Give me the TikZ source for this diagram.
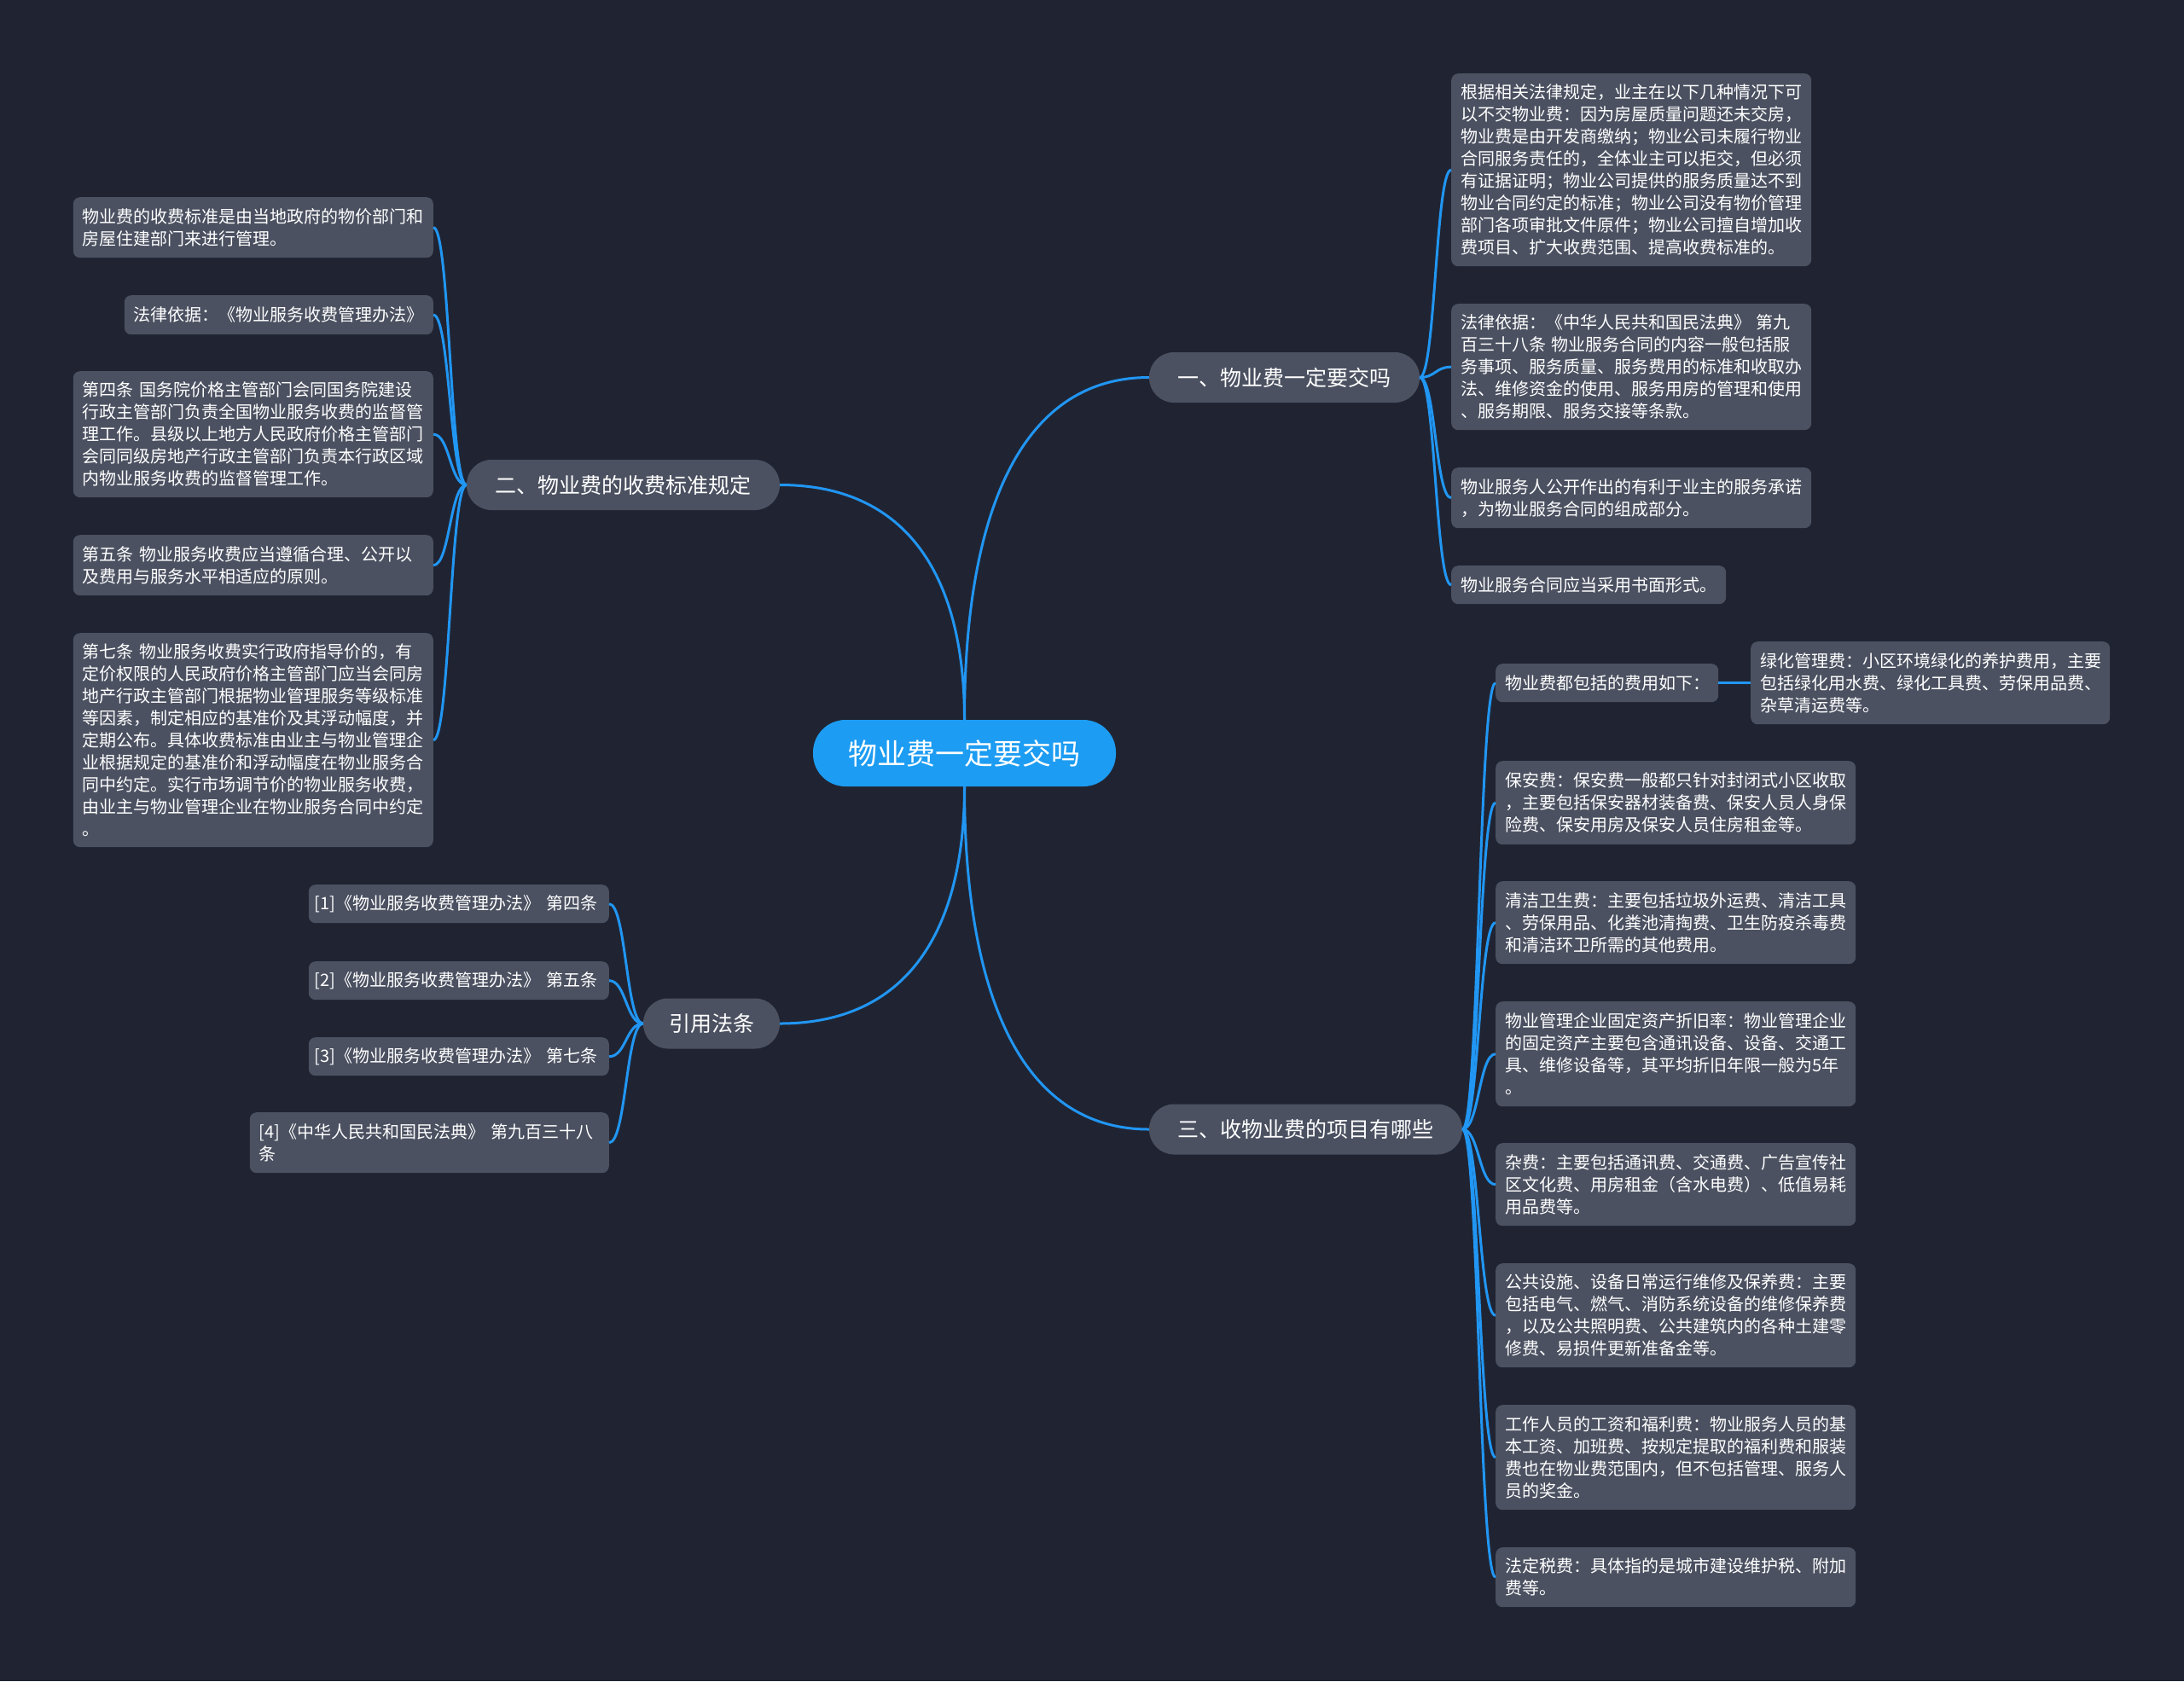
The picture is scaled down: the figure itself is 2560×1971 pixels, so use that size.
\documentclass[tikz,border=0pt]{standalone}
\usepackage{fontspec}
\setmainfont{Noto Sans CJK SC}
\usetikzlibrary{calc}
\definecolor{bgc}{RGB}{32,36,50}
\definecolor{nodec}{RGB}{75,81,97}
\definecolor{rootc}{RGB}{28,156,242}
\definecolor{linkc}{RGB}{33,150,243}
\tikzset{
 rootbox/.style={fill=rootc, rounded corners=38pt, text=white, font=\fontsize{34}{40}\selectfont, minimum width=355pt, minimum height=78pt, inner sep=0pt},
 branchbox/.style={fill=nodec, rounded corners=29pt, text=white, font=\fontsize{25}{30}\selectfont, minimum height=59pt, inner sep=0pt},
 leafbox/.style={fill=nodec, rounded corners=8pt, text=white, font=\fontsize{20}{26}\selectfont, align=left, inner xsep=11pt, inner ysep=0pt},
 link/.style={draw=linkc, line width=3pt},
}
\newcommand\mmlink[2]{\draw[link] let \p1=(#1), \p2=(#2), \p3=($(\p1)!0.5!(\p2)$) in (\p1) .. controls (\x3,\y1) and (\x3,\y2) .. (\p2);}
\newcommand\rootlink[2]{\draw[link] let \p1=(#1), \p2=(#2), \p3=($(\p1)!0.6!(\p2)$), \p4=($(\p1)!0.3!(\p2)$) in (\p1) .. controls (\x1,\y3) and (\x4,\y2) .. (\p2);}
\newcommand\mmleaf[7]{\node[leafbox, anchor=#2, text width=#5pt, minimum height=#6pt] (#1) at (#3,#4) {#7};}
\begin{document}
\begin{tikzpicture}[x=1pt,y=-1pt]
\useasboundingbox (0,0) rectangle (2560,1971);
\fill[bgc] (0,0) rectangle (2560,1971);

% root and branches
\node[rootbox] (root) at (1130.5,883) {物业费一定要交吗};
\node[branchbox, minimum width=317pt] (b1) at (1505.5,442.5) {一、物业费一定要交吗};
\node[branchbox, minimum width=367pt] (b2) at (730.5,568.5) {二、物业费的收费标准规定};
\node[branchbox, minimum width=160pt] (b3) at (834,1200) {引用法条};
\node[branchbox, minimum width=367pt] (b4) at (1530.5,1324) {三、收物业费的项目有哪些};

% branch 1 leaves
\mmleaf{l1a}{north west}{1701}{86}{400}{226}{根据相关法律规定，业主在以下几种情况下可\\以不交物业费：因为房屋质量问题还未交房，\\物业费是由开发商缴纳；物业公司未履行物业\\合同服务责任的，全体业主可以拒交，但必须\\有证据证明；物业公司提供的服务质量达不到\\物业合同约定的标准；物业公司没有物价管理\\部门各项审批文件原件；物业公司擅自增加收\\费项目、扩大收费范围、提高收费标准的。}
\mmleaf{l1b}{north west}{1701}{356}{400}{148}{法律依据：《中华人民共和国民法典》 第九\\百三十八条 物业服务合同的内容一般包括服\\务事项、服务质量、服务费用的标准和收取办\\法、维修资金的使用、服务用房的管理和使用\\、服务期限、服务交接等条款。}
\mmleaf{l1c}{north west}{1701}{548}{400}{71}{物业服务人公开作出的有利于业主的服务承诺\\，为物业服务合同的组成部分。}
\mmleaf{l1d}{north west}{1701}{663}{300}{45}{物业服务合同应当采用书面形式。}

% branch 2 leaves
\mmleaf{l2a}{north east}{508}{231}{400}{71}{物业费的收费标准是由当地政府的物价部门和\\房屋住建部门来进行管理。}
\mmleaf{l2b}{north east}{508}{346}{340}{46}{法律依据：《物业服务收费管理办法》}
\mmleaf{l2c}{north east}{508}{435}{400}{148}{第四条 国务院价格主管部门会同国务院建设\\行政主管部门负责全国物业服务收费的监督管\\理工作。县级以上地方人民政府价格主管部门\\会同同级房地产行政主管部门负责本行政区域\\内物业服务收费的监督管理工作。}
\mmleaf{l2d}{north east}{508}{627}{400}{71}{第五条 物业服务收费应当遵循合理、公开以\\及费用与服务水平相适应的原则。}
\mmleaf{l2e}{north east}{508}{742}{400}{251}{第七条 物业服务收费实行政府指导价的，有\\定价权限的人民政府价格主管部门应当会同房\\地产行政主管部门根据物业管理服务等级标准\\等因素，制定相应的基准价及其浮动幅度，并\\定期公布。具体收费标准由业主与物业管理企\\业根据规定的基准价和浮动幅度在物业服务合\\同中约定。实行市场调节价的物业服务收费，\\由业主与物业管理企业在物业服务合同中约定\\。}

% branch 3 leaves
\tikzset{citebox/.style={inner xsep=7pt}}
\node[leafbox, citebox, anchor=north east, text width=338pt, minimum height=45pt] (l3a) at (714,1037) {\mbox{[1]《物业服务收费管理办法》 第四条}};
\node[leafbox, citebox, anchor=north east, text width=338pt, minimum height=45pt] (l3b) at (714,1127) {\mbox{[2]《物业服务收费管理办法》 第五条}};
\node[leafbox, citebox, anchor=north east, text width=338pt, minimum height=45pt] (l3c) at (714,1216) {\mbox{[3]《物业服务收费管理办法》 第七条}};
\mmleaf{l3d}{north east}{714}{1304}{399}{71}{[4]《中华人民共和国民法典》 第九百三十八\\条}

% branch 4 leaves
\mmleaf{l4a}{north west}{1753}{778}{239}{45}{物业费都包括的费用如下：}
\mmleaf{l4a1}{north west}{2052}{752}{399}{97}{绿化管理费：小区环境绿化的养护费用，主要\\包括绿化用水费、绿化工具费、劳保用品费、\\杂草清运费等。}
\mmleaf{l4b}{north west}{1753}{892}{400}{98}{保安费：保安费一般都只针对封闭式小区收取\\，主要包括保安器材装备费、保安人员人身保\\险费、保安用房及保安人员住房租金等。}
\mmleaf{l4c}{north west}{1753}{1033}{400}{97}{清洁卫生费：主要包括垃圾外运费、清洁工具\\、劳保用品、化粪池清掏费、卫生防疫杀毒费\\和清洁环卫所需的其他费用。}
\mmleaf{l4d}{north west}{1753}{1174}{400}{123}{物业管理企业固定资产折旧率：物业管理企业\\的固定资产主要包含通讯设备、设备、交通工\\具、维修设备等，其平均折旧年限一般为5年\\。}
\mmleaf{l4e}{north west}{1753}{1340}{400}{97}{杂费：主要包括通讯费、交通费、广告宣传社\\区文化费、用房租金（含水电费）、低值易耗\\用品费等。}
\mmleaf{l4f}{north west}{1753}{1481}{400}{122}{公共设施、设备日常运行维修及保养费：主要\\包括电气、燃气、消防系统设备的维修保养费\\，以及公共照明费、公共建筑内的各种土建零\\修费、易损件更新准备金等。}
\mmleaf{l4g}{north west}{1753}{1647}{400}{123}{工作人员的工资和福利费：物业服务人员的基\\本工资、加班费、按规定提取的福利费和服装\\费也在物业费范围内，但不包括管理、服务人\\员的奖金。}
\mmleaf{l4h}{north west}{1753}{1814}{400}{70}{法定税费：具体指的是城市建设维护税、附加\\费等。}

% connectors
\rootlink{root.north}{b1.west}
\rootlink{root.north}{b2.east}
\rootlink{root.south}{b3.east}
\rootlink{root.south}{b4.west}

\mmlink{b1.east}{l1a.west}
\mmlink{b1.east}{l1b.west}
\mmlink{b1.east}{l1c.west}
\mmlink{b1.east}{l1d.west}

\mmlink{b2.west}{l2a.east}
\mmlink{b2.west}{l2b.east}
\mmlink{b2.west}{l2c.east}
\mmlink{b2.west}{l2d.east}
\mmlink{b2.west}{l2e.east}

\mmlink{b3.west}{l3a.east}
\mmlink{b3.west}{l3b.east}
\mmlink{b3.west}{l3c.east}
\mmlink{b3.west}{l3d.east}

\mmlink{b4.east}{l4a.west}
\mmlink{b4.east}{l4b.west}
\mmlink{b4.east}{l4c.west}
\mmlink{b4.east}{l4d.west}
\mmlink{b4.east}{l4e.west}
\mmlink{b4.east}{l4f.west}
\mmlink{b4.east}{l4g.west}
\mmlink{b4.east}{l4h.west}

\draw[link] (l4a.east) -- (l4a1.west);
\end{tikzpicture}
\end{document}
